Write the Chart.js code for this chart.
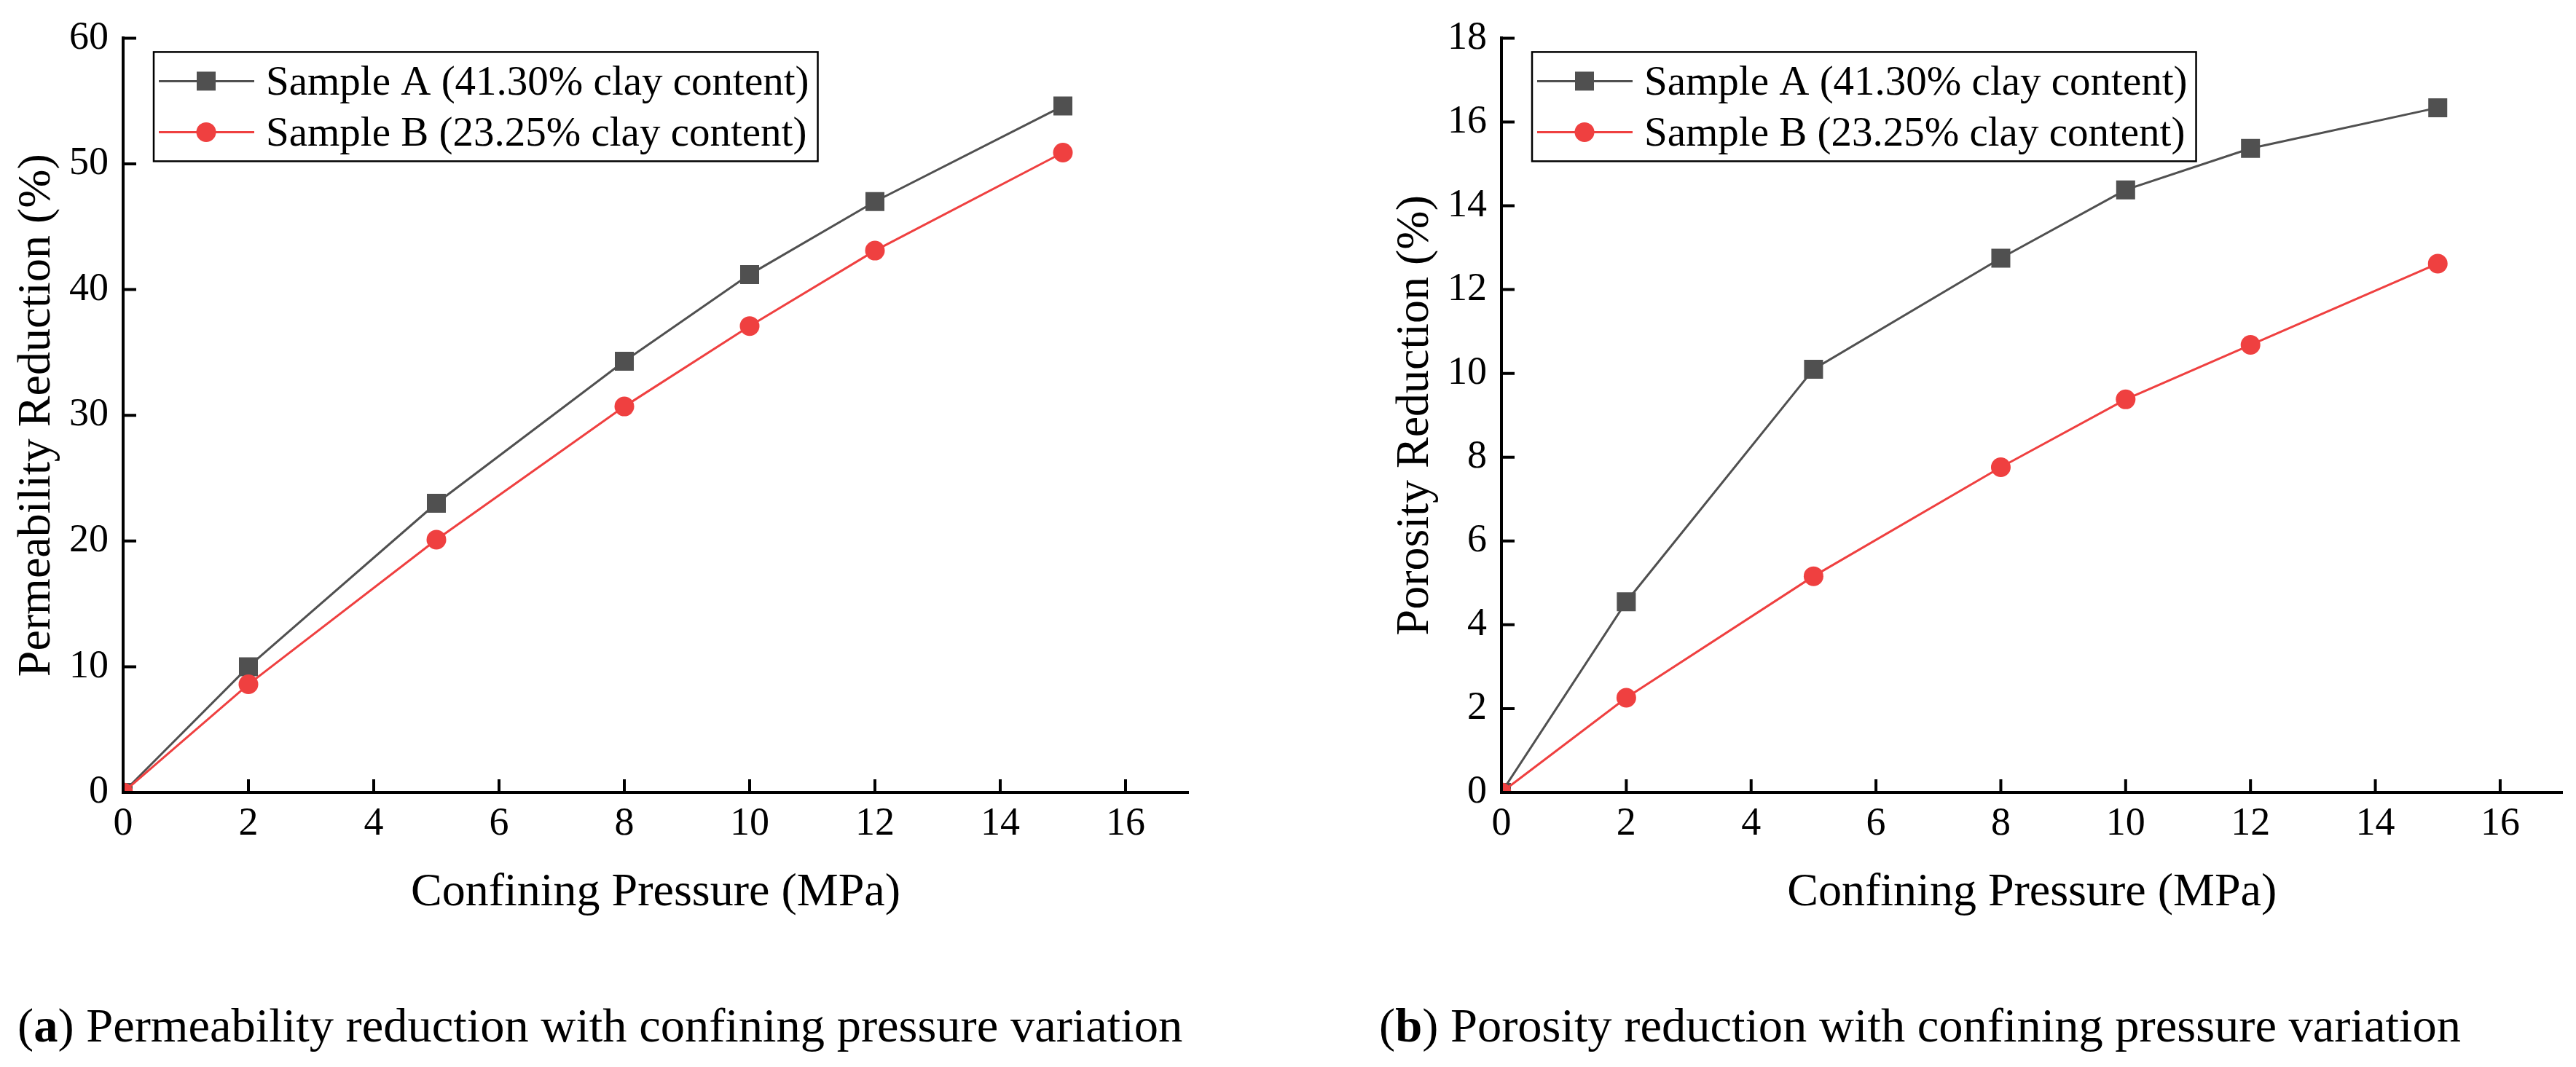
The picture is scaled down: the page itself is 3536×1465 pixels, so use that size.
<!DOCTYPE html>
<html>
<head>
<meta charset="utf-8">
<script src="https://cdn.jsdelivr.net/npm/chart.js@4.4.1/dist/chart.umd.min.js"></script>
<style>
  body { margin: 0; background: #fff; width: 3536px; height: 1465px; position: relative; overflow: hidden;
         font-family: "Liberation Serif", "Times New Roman", "DejaVu Serif", serif; }
  canvas { position: absolute; top: 0; }
  .caption { position: absolute; top: 1375px; font-size: 66.5px; line-height: 66.5px; white-space: nowrap; color: #000; }
</style>
</head>
<body>
<canvas id="permChart" width="1768" height="1300" style="left:0"></canvas>
<canvas id="poroChart" width="1768" height="1300" style="left:1768px"></canvas>
<div class="caption" style="left:24px">(<b>a</b>) Permeability reduction with confining pressure variation</div>
<div class="caption" style="left:1893px">(<b>b</b>) Porosity reduction with confining pressure variation</div>
<script>
// Confining pressure (MPa)
const pressure = [0, 2, 5, 8, 10, 12, 15];

// Permeability reduction (%)
const permA = [0, 10.0, 23.0, 34.3, 41.2, 47.0, 54.6];
const permB = [0, 8.6, 20.1, 30.7, 37.1, 43.1, 50.9];

// Porosity reduction (%)
const poroA = [0, 4.55, 10.1, 12.75, 14.38, 15.37, 16.34];
const poroB = [0, 2.26, 5.16, 7.76, 9.38, 10.68, 12.62];

const xTicks = [0, 2, 4, 6, 8, 10, 12, 14, 16];
const labelA = 'Sample A (41.30% clay content)';
const labelB = 'Sample B (23.25% clay content)';

const colorA = '#505050';
const colorB = '#ef4040';

Chart.defaults.font.family = '"Liberation Serif", "Times New Roman", "DejaVu Serif", serif';
Chart.defaults.color = '#000';

// ticks pointing into the plot
const innerTicks = {
  id: 'innerTicks',
  afterDraw(chart) {
    const ctx = chart.ctx;
    const a = chart.chartArea;
    const x = chart.scales.x, y = chart.scales.y;
    ctx.save();
    ctx.strokeStyle = '#000';
    ctx.lineWidth = 4;
    ctx.beginPath();
    x.ticks.forEach(t => {
      const px = x.getPixelForValue(t.value);
      ctx.moveTo(px, a.bottom);
      ctx.lineTo(px, a.bottom - 18);
    });
    y.ticks.forEach(t => {
      const py = y.getPixelForValue(t.value);
      ctx.moveTo(a.left, py);
      ctx.lineTo(a.left + 18, py);
    });
    ctx.stroke();
    ctx.restore();
  }
};

// boxed legend with line + marker samples
const legendBox = {
  id: 'legendBox',
  afterDraw(chart) {
    const ctx = chart.ctx;
    const a = chart.chartArea;
    const left = a.left + 42, top = a.top + 19;
    ctx.save();
    ctx.font = '57px "Liberation Serif", "Times New Roman", serif';
    let textW = 0;
    chart.data.datasets.forEach(ds => { textW = Math.max(textW, ctx.measureText(ds.label).width); });
    const w = 154 + textW + 12, h = 150;
    ctx.fillStyle = '#fff';
    ctx.fillRect(left, top, w, h);
    ctx.lineWidth = 2.5;
    ctx.strokeStyle = '#000';
    ctx.strokeRect(left, top, w, h);
    chart.data.datasets.forEach((ds, i) => {
      const yy = top + 40 + i * 70;
      ctx.strokeStyle = ds.borderColor;
      ctx.lineWidth = 3;
      ctx.beginPath();
      ctx.moveTo(left + 7, yy);
      ctx.lineTo(left + 138, yy);
      ctx.stroke();
      ctx.fillStyle = ds.borderColor;
      if (ds.pointStyle === 'rect') {
        ctx.fillRect(left + 72 - 13, yy - 13, 26, 26);
      } else {
        ctx.beginPath();
        ctx.arc(left + 72, yy, 13.5, 0, Math.PI * 2);
        ctx.fill();
      }
      ctx.fillStyle = '#000';
      ctx.textBaseline = 'alphabetic';
      ctx.fillText(ds.label, left + 154, yy + 19);
    });
    ctx.restore();
  }
};

function toPoints(values) {
  return values.map((v, i) => ({ x: pressure[i], y: v }));
}

function makeConfig(yTitle, yMax, yStep, dataA, dataB, padLeft, padRight) {
  return {
    type: 'line',
    data: {
      datasets: [{
        label: labelA,
        data: toPoints(dataA),
        borderColor: colorA,
        backgroundColor: colorA,
        borderWidth: 3,
        pointStyle: 'rect',
        pointRadius: 18.4,
        pointBorderWidth: 0,
        tension: 0,
        order: 1
      }, {
        label: labelB,
        data: toPoints(dataB),
        borderColor: colorB,
        backgroundColor: colorB,
        borderWidth: 3,
        pointStyle: 'circle',
        pointRadius: 13.5,
        pointBorderWidth: 0,
        tension: 0,
        order: 0
      }]
    },
    options: {
      responsive: false,
      animation: false,
      devicePixelRatio: 1,
      layout: { padding: { left: padLeft, right: padRight, top: 38, bottom: 0 } },
      plugins: { legend: { display: false }, tooltip: { enabled: false } },
      scales: {
        x: {
          type: 'linear',
          min: 0,
          max: 17,
          afterBuildTicks: s => { s.ticks = xTicks.map(v => ({ value: v })); },
          afterFit: s => { s.height = 212; },
          grid: { display: false, drawTicks: false },
          border: { display: true, color: '#000', width: 4 },
          ticks: { font: { size: 54, lineHeight: 1.2 }, color: '#000', padding: 11 },
          title: {
            display: true,
            text: 'Confining Pressure (MPa)',
            color: '#000',
            font: { size: 64, lineHeight: 1 },
            padding: { top: 0, bottom: 42 }
          }
        },
        y: {
          type: 'linear',
          min: 0,
          max: yMax,
          afterFit: s => { s.width = 169; },
          grid: { display: false, drawTicks: false },
          border: { display: true, color: '#000', width: 4 },
          ticks: { stepSize: yStep, font: { size: 54 }, color: '#000', padding: 20 },
          title: {
            display: true,
            text: yTitle,
            color: '#000',
            font: { size: 64, lineHeight: 1 },
            padding: { top: 19.5, bottom: 0 }
          }
        }
      }
    },
    plugins: [innerTicks, legendBox]
  };
}

new Chart(document.getElementById('permChart'),
  makeConfig('Permeability Reduction (%)', 60, 10, permA, permB, 0, 137));
new Chart(document.getElementById('poroChart'),
  makeConfig('Porosity Reduction (%)', 18, 2, poroA, poroB, 124, 13));
</script>
</body>
</html>
